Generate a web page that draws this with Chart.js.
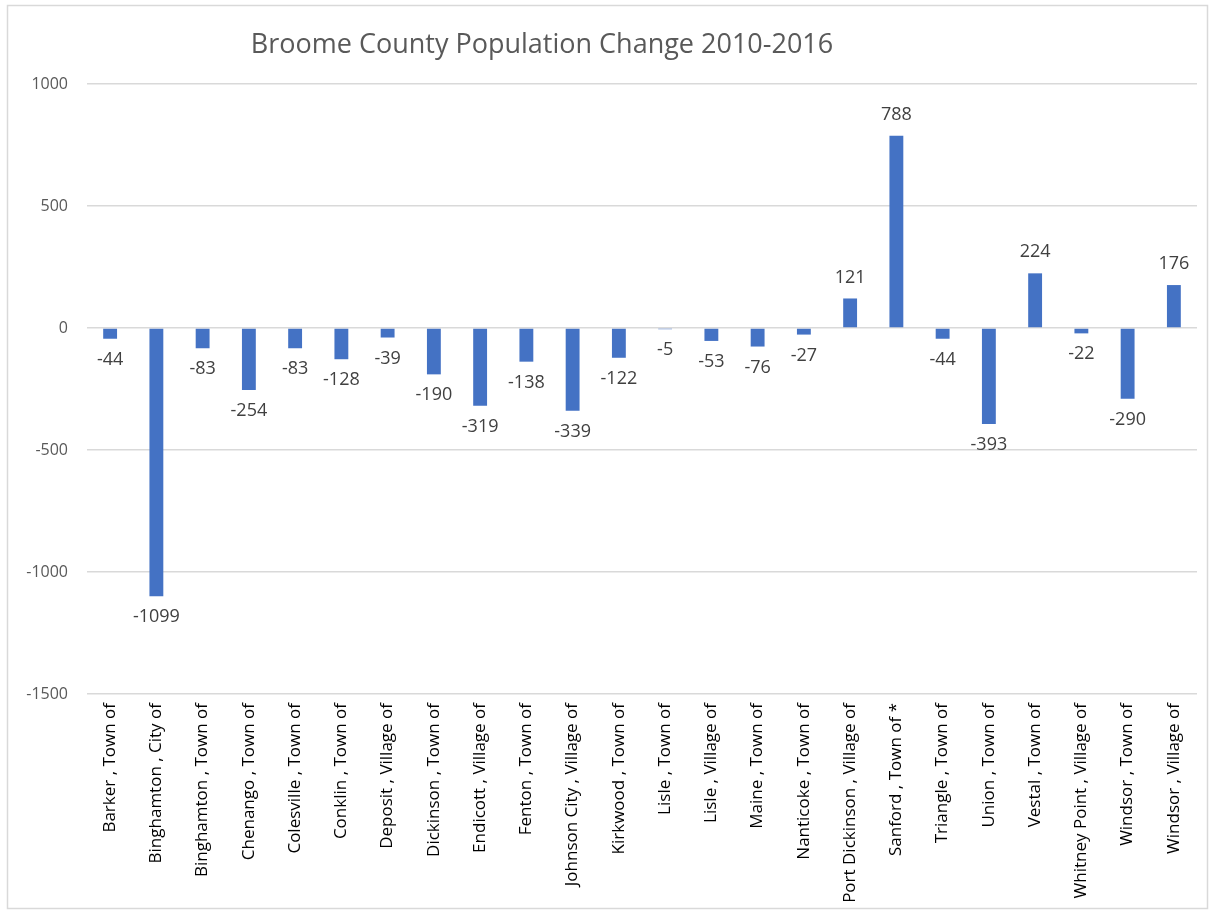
<!DOCTYPE html>
<html>
<head>
<meta charset="utf-8">
<script src="https://cdn.jsdelivr.net/npm/chart.js@4/dist/chart.umd.min.js"></script>
<style>
    html, body { margin: 0; padding: 0; background: #fff; }
    #wrap { width: 1212px; height: 913px; }
</style>
</head>
<body>
<div id="wrap"><canvas id="popChart" width="1212" height="913"></canvas></div>
<script>
// Broome County population change by municipality
var chartTitle = 'Broome County Population Change 2010-2016';
var places = [
    'Barker , Town of', 'Binghamton , City of', 'Binghamton , Town of', 'Chenango , Town of',
    'Colesville , Town of', 'Conklin , Town of', 'Deposit , Village of', 'Dickinson , Town of',
    'Endicott , Village of', 'Fenton , Town of', 'Johnson City , Village of', 'Kirkwood , Town of',
    'Lisle , Town of', 'Lisle , Village of', 'Maine , Town of', 'Nanticoke , Town of',
    'Port Dickinson , Village of', 'Sanford , Town of *', 'Triangle , Town of', 'Union , Town of',
    'Vestal , Town of', 'Whitney Point , Village of', 'Windsor , Town of', 'Windsor , Village of'
];
var changes = [-44, -1099, -83, -254, -83, -128, -39, -190, -319, -138, -339, -122,
    -5, -53, -76, -27, 121, 788, -44, -393, 224, -22, -290, 176];
var yMin = -1500;
var yMax = 1000;
var yStep = 500;

var fontFamily = '"Open Sans", "Noto Sans", sans-serif';

// frame + title, drawn the way the spreadsheet does it
var framePlugin = {
    id: 'frame',
    beforeDraw: function (chart) {
        var ctx = chart.ctx;
        ctx.save();
        ctx.fillStyle = '#ffffff';
        ctx.fillRect(0, 0, chart.width, chart.height);
        ctx.strokeStyle = '#d9d9d9';
        ctx.lineWidth = 1.5;
        ctx.strokeRect(7.5, 5.5, 1200, 903);
        ctx.fillStyle = '#595959';
        ctx.font = '27px ' + fontFamily;
        ctx.textAlign = 'center';
        ctx.textBaseline = 'alphabetic';
        ctx.fillText(chartTitle, 542, 53);
        ctx.restore();
    }
};

// value labels above / below each bar
var valueLabels = {
    id: 'valueLabels',
    afterDatasetsDraw: function (chart) {
        var ctx = chart.ctx;
        var meta = chart.getDatasetMeta(0);
        ctx.save();
        ctx.fillStyle = '#404040';
        ctx.font = '18px ' + fontFamily;
        ctx.textAlign = 'center';
        ctx.textBaseline = 'middle';
        meta.data.forEach(function (bar, i) {
            var v = changes[i];
            var y = v >= 0 ? bar.y - 21 : bar.y + 21;
            ctx.fillText(String(v), bar.x, y);
        });
        ctx.restore();
    }
};

var ctx = document.getElementById('popChart').getContext('2d');
new Chart(ctx, {
    type: 'bar',
    data: {
        labels: places,
        datasets: [{
            label: 'Population change',
            data: changes,
            backgroundColor: '#4472c4',
            barPercentage: 0.3,
            categoryPercentage: 1.0
        }]
    },
    options: {
        responsive: false,
        animation: false,
        layout: { padding: { left: 0, right: 15, top: 84, bottom: 0 } },
        plugins: {
            legend: { display: false },
            title: { display: false },
            tooltip: { enabled: false }
        },
        scales: {
            x: {
                grid: { display: false, drawTicks: false },
                border: { display: false },
                ticks: {
                    color: '#000000',
                    font: { family: fontFamily, size: 17 },
                    minRotation: 90,
                    maxRotation: 90,
                    autoSkip: false,
                    padding: 9
                },
                afterFit: function (scale) { scale.height = 219; }
            },
            y: {
                min: yMin,
                max: yMax,
                grid: { color: '#d9d9d9', lineWidth: 1.5, drawTicks: false },
                border: { display: false },
                ticks: {
                    stepSize: yStep,
                    color: '#595959',
                    font: { family: fontFamily, size: 16 },
                    padding: 19,
                    callback: function (value) { return String(value); }
                },
                afterFit: function (scale) { scale.width = 87; }
            }
        }
    },
    plugins: [framePlugin, valueLabels]
});
</script>
</body>
</html>
